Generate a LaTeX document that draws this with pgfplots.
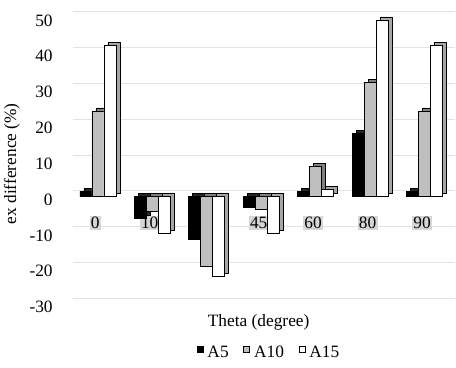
\documentclass[border=0pt]{standalone}
\usepackage{fontspec}
\setmainfont{Liberation Serif}
\usepackage{pgfplots}
\pgfplotsset{compat=1.18}
\definecolor{barA10}{HTML}{BFBFBF}
\definecolor{sideA5}{HTML}{262626}
\definecolor{sideA10}{HTML}{7F7F7F}
\definecolor{sideA15}{HTML}{A6A6A6}
\definecolor{gridc}{HTML}{E3E3E3}
\definecolor{lblbg}{HTML}{D6D6D6}
\begin{document}
\begin{tikzpicture}[font=\fontsize{13}{15}\selectfont]
\begin{axis}[
  at={(0,0)}, anchor=south west,
  scale only axis, width=286pt, height=214.9pt,
  clip=false,
  xmin=-0.5, xmax=6.5, ymin=-30, ymax=50,
  ytick={-30,-20,...,50},
  xtick={0,1,2,3,4,5,6},
  xticklabels={0,10,30,45,60,80,90},
  axis line style={draw=none},
  major tick length=0pt,
  ymajorgrids,
  major grid style={draw=gridc, line width=0.8pt, yshift=6.5pt, xshift=4pt},
  /pgf/number format/assume math mode=true,
  tick label style={font=\fontsize{13}{15}\selectfont},
  yticklabel style={xshift=-8pt},
  xticklabel style={anchor=center, yshift=63pt, fill=lblbg, inner sep=1pt},
  every axis y label/.style={at={(axis description cs:-0.147,0.5)}, rotate=90, anchor=center, font=\fontsize{13}{15}\selectfont},
  every axis x label/.style={at={(axis description cs:0.5,0)}, anchor=center, yshift=-11.5pt, font=\fontsize{13}{15}\selectfont},
  ylabel={ex difference (\%)},
  xlabel={Theta (degree)},
  ybar, bar width=9pt,
  legend style={at={(axis description cs:0.5,0)}, anchor=center, yshift=-34pt, xshift=8pt, draw=none, fill=none,
    legend columns=-1, font=\fontsize{13}{15}\selectfont,
    /tikz/every even column/.append style={column sep=9pt},
    /tikz/every odd column/.append style={column sep=1pt}},
  legend image code/.code={\draw[#1, line width=0.6pt] (2pt,-2.25pt) rectangle (6.5pt,2.25pt);},
]
% A5
\addplot[forget plot, fill=sideA5, draw=black, line width=0.6pt, bar shift=-4pt, yshift=4.25pt]
  coordinates {(0,1.6) (1,-5.9) (2,-12) (3,-2.8) (4,1.6) (5,17.7) (6,1.6)};
\addplot[fill=black, draw=black, line width=0.6pt, bar shift=-7pt, yshift=2pt]
  coordinates {(0,1.6) (1,-5.9) (2,-12) (3,-2.8) (4,1.6) (5,17.7) (6,1.6)};
% A10
\addplot[forget plot, fill=sideA10, draw=black, line width=0.6pt, bar shift=5pt, yshift=4.25pt]
  coordinates {(0,24) (1,-4) (2,-19.5) (3,-3.5) (4,8.4) (5,32) (6,24)};
\addplot[fill=barA10, draw=black, line width=0.6pt, bar shift=2pt, yshift=2pt]
  coordinates {(0,24) (1,-4) (2,-19.5) (3,-3.5) (4,8.4) (5,32) (6,24)};
% A15
\addplot[forget plot, fill=sideA15, draw=black, line width=0.6pt, bar shift=14pt, yshift=4.25pt]
  coordinates {(0,42.2) (1,-10.1) (2,-22.3) (3,-10.2) (4,2.2) (5,49.4) (6,42.2)};
\addplot[fill=white, draw=black, line width=0.6pt, bar shift=11pt, yshift=2pt]
  coordinates {(0,42.2) (1,-10.1) (2,-22.3) (3,-10.2) (4,2.2) (5,49.4) (6,42.2)};
\legend{A5,A10,A15}
\end{axis}
\pgfresetboundingbox
\path[use as bounding box] (-51pt,-45pt) rectangle (291pt,230.25pt);
\end{tikzpicture}
\end{document}
